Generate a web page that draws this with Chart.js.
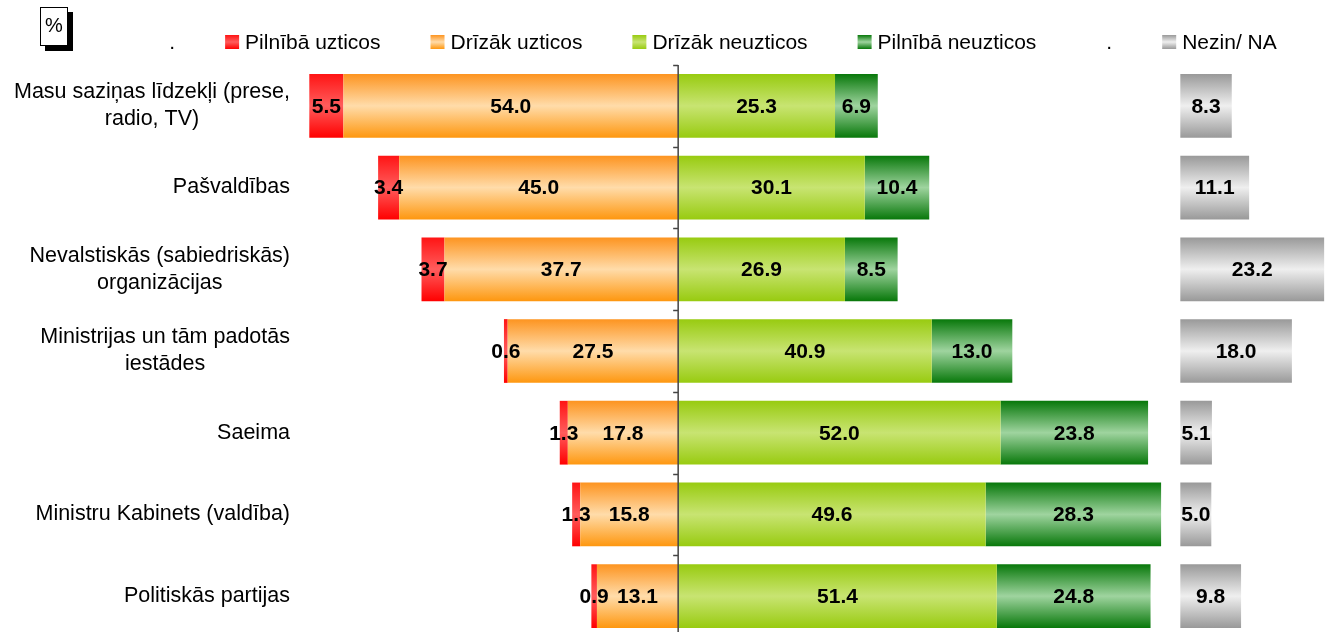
<!DOCTYPE html>
<html>
<head>
<meta charset="utf-8">
<script src="https://cdn.jsdelivr.net/npm/chart.js@4"></script>
<style>
  body { margin: 0; background: #fff; overflow: hidden; }
  #wrap { position: relative; width: 1326px; height: 640px; }
  #pct {
    position: absolute; left: 40px; top: 7px; width: 26px; height: 37px;
    border: 1px solid #000; background: #fff; box-shadow: 5px 5px 0 #000;
    font: 20px "Liberation Sans", Arial, sans-serif; text-align: center; line-height: 34px;
  }
</style>
</head>
<body>
<div id="wrap">
  <canvas id="chartUzticiba"></canvas>
  <div id="pct">%</div>
</div>
<script>
const kategorijas = [
  ['Masu saziņas līdzekļi (prese,', 'radio, TV)'],
  'Pašvaldības',
  ['Nevalstiskās (sabiedriskās)', 'organizācijas'],
  ['Ministrijas un tām padotās', 'iestādes'],
  'Saeima',
  'Ministru Kabinets (valdība)',
  'Politiskās partijas'
];

const pilnibaUzticos = [5.5, 3.4, 3.7, 0.6, 1.3, 1.3, 0.9];
const drizakUzticos = [54.0, 45.0, 37.7, 27.5, 17.8, 15.8, 13.1];
const drizakNeuzticos = [25.3, 30.1, 26.9, 40.9, 52.0, 49.6, 51.4];
const pilnibaNeuzticos = [6.9, 10.4, 8.5, 13.0, 23.8, 28.3, 24.8];
const nezinNA = [8.3, 11.1, 23.2, 18.0, 5.1, 5.0, 9.8];

// Nezin/NA bars start apart from the rest, at this x value
const naSakums = 81;
const barPct = 0.78;
const fonts = '"Liberation Sans", Arial, sans-serif';

const krasas = {
  pilnUzt: ['#ff1414', '#ff5c5c', '#ff0000'],
  drizUzt: ['#fd9420', '#ffdcaa', '#fe970f'],
  drizNeuzt: ['#98cb10', '#c8e472', '#98cb10'],
  pilnNeuzt: ['#08780a', '#9fd49f', '#08780a'],
  nezin: ['#999999', '#efefef', '#999999']
};

function linGrad(ctx, y0, y1, c) {
  const g = ctx.createLinearGradient(0, y0, 0, y1);
  g.addColorStop(0, c[0]);
  g.addColorStop(0.5, c[1]);
  g.addColorStop(1, c[2]);
  return g;
}

function gradient(c) {
  return (cx) => {
    const chart = cx.chart;
    if (!chart.chartArea || cx.dataIndex === undefined) return c[1];
    const cy = chart.scales.y.getPixelForValue(cx.dataIndex);
    const h = (chart.chartArea.bottom - chart.chartArea.top) / kategorijas.length * barPct / 2;
    return linGrad(chart.ctx, cy - h, cy + h, c);
  };
}

const uzrakstVertibas = [drizakUzticos, pilnibaUzticos, drizakNeuzticos, pilnibaNeuzticos, nezinNA];

// legend: "." entries are empty placeholders, as in the original
const legenda = [
  ['.', null],
  ['Pilnībā uzticos', krasas.pilnUzt],
  ['Drīzāk uzticos', krasas.drizUzt],
  ['Drīzāk neuzticos', krasas.drizNeuzt],
  ['Pilnībā neuzticos', krasas.pilnNeuzt],
  ['.', null],
  ['Nezin/ NA', krasas.nezin]
];

const extras = {
  id: 'extras',
  afterDatasetsDraw(chart) {
    const { ctx, chartArea: a, scales: { x, y } } = chart;
    const x0 = x.getPixelForValue(0);
    const step = (a.bottom - a.top) / kategorijas.length;
    ctx.save();
    ctx.strokeStyle = '#444';
    ctx.lineWidth = 1.5;
    ctx.beginPath();
    ctx.moveTo(x0, a.top);
    ctx.lineTo(x0, a.bottom);
    for (let i = 0; i <= kategorijas.length; i++) {
      const ty = Math.round(a.top + i * step) + 0.5;
      ctx.moveTo(x0 - 5, ty);
      ctx.lineTo(x0, ty);
    }
    ctx.stroke();

    ctx.fillStyle = '#000';
    ctx.font = 'bold 21px ' + fonts;
    ctx.textAlign = 'center';
    ctx.textBaseline = 'middle';
    uzrakstVertibas.forEach((vals, di) => {
      chart.getDatasetMeta(di).data.forEach((bar, i) => {
        ctx.fillText(vals[i].toFixed(1), (bar.x + bar.base) / 2, bar.y + 1);
      });
    });

    // category labels: block right aligned, lines centred inside
    ctx.font = '21.5px ' + fonts;
    const labelRight = a.left - 10;
    kategorijas.forEach((lab, i) => {
      const lines = Array.isArray(lab) ? lab : [lab];
      const w = Math.max(...lines.map((l) => ctx.measureText(l).width));
      const cy = y.getPixelForValue(i);
      lines.forEach((l, j) => {
        ctx.fillText(l, labelRight - w / 2, cy + (j - (lines.length - 1) / 2) * 27);
      });
    });

    // legend row
    ctx.font = '21px ' + fonts;
    ctx.textAlign = 'left';
    const ly = 42;
    const widths = legenda.map(([t]) => 20 + ctx.measureText(t).width);
    const total = widths.reduce((s, w) => s + w, 0) + 50 * (legenda.length - 1);
    let lx = 713 - total / 2;
    legenda.forEach(([t, c], i) => {
      if (c) {
        ctx.fillStyle = linGrad(ctx, ly - 7, ly + 7, c);
        ctx.fillRect(lx, ly - 7, 14, 14);
      }
      ctx.fillStyle = '#000';
      ctx.fillText(t, lx + 20, ly + 1);
      lx += widths[i] + 50;
    });
    ctx.restore();
  }
};

const chartUzticiba = new Chart(document.getElementById('chartUzticiba'), {
  type: 'bar',
  data: {
    labels: kategorijas,
    datasets: [{
      label: 'Drīzāk uzticos',
      data: drizakUzticos.map((v) => -v),
      backgroundColor: gradient(krasas.drizUzt)
    }, {
      label: 'Pilnībā uzticos',
      data: pilnibaUzticos.map((v) => -v),
      backgroundColor: gradient(krasas.pilnUzt)
    }, {
      label: 'Drīzāk neuzticos',
      data: drizakNeuzticos,
      backgroundColor: gradient(krasas.drizNeuzt)
    }, {
      label: 'Pilnībā neuzticos',
      data: pilnibaNeuzticos,
      backgroundColor: gradient(krasas.pilnNeuzt)
    }, {
      label: 'Nezin/ NA',
      stack: 'na',
      data: nezinNA.map((v) => [naSakums, naSakums + v]),
      backgroundColor: gradient(krasas.nezin)
    }]
  },
  options: {
    indexAxis: 'y',
    responsive: true,
    maintainAspectRatio: false,
    animation: false,
    datasets: {
      bar: { grouped: false, barPercentage: barPct, categoryPercentage: 1, borderWidth: 0 }
    },
    layout: {
      padding: { left: 102, top: 65, bottom: 3 }
    },
    scales: {
      x: {
        display: false,
        stacked: true,
        min: -61,
        max: 104.5
      },
      y: {
        display: true,
        stacked: true,
        ticks: { display: false },
        grid: { display: false },
        border: { display: false },
        afterFit: (s) => { s.width = 198; }
      }
    },
    plugins: {
      legend: { display: false },
      tooltip: { enabled: false }
    }
  },
  plugins: [extras]
});
</script>
</body>
</html>
